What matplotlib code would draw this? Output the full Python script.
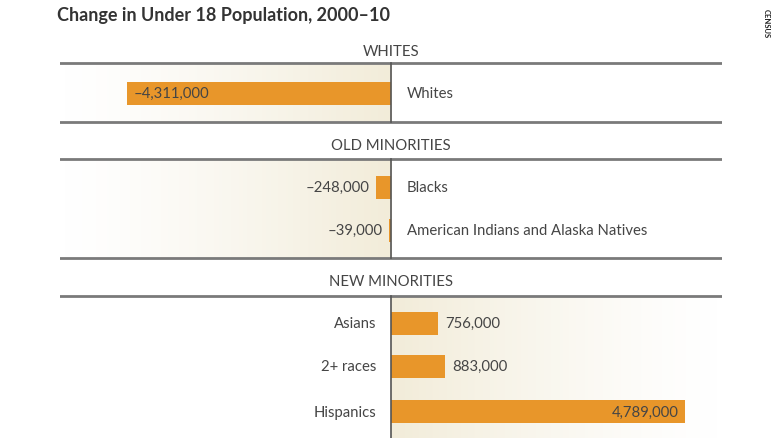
import numpy as np
import matplotlib.pyplot as plt
from matplotlib.colors import LinearSegmentedColormap

title = 'Change in Under 18 Population, 2000\u201310'
sections = ['WHITES', 'OLD MINORITIES', 'NEW MINORITIES']
groups = ['Whites', 'Blacks', 'American Indians and Alaska Natives',
          'Asians', '2+ races', 'Hispanics']
group_section = [0, 1, 1, 2, 2, 2]
changes = [-4311000, -248000, -39000, 756000, 883000, 4789000]
value_labels = ['\u20134,311,000', '\u2013248,000', '\u201339,000',
                '756,000', '883,000', '4,789,000']

# layout (rows measured in pixels from the top)
bar_y = [94, 188, 231, 324, 367, 413]
head_y = [52, 146, 282]
rule_top = [64, 160, 297]
rule_bot = [123, 259, 439]
bar_h = 23
orange = '#e8962a'
txt = '#454545'
font = ['Lato', 'DejaVu Sans']
fs = 10.7

W, H = 780, 439
fig = plt.figure(figsize=(W / 100, H / 100), dpi=100)
x0, x1 = 60, 722
ax = fig.add_axes([x0 / W, 0, (x1 - x0) / W, 1])
xmin, xmax = -5.41e6, 5.40e6
ax.set_xlim(xmin, xmax)
ax.set_ylim(H, 0)
ax.axis('off')

beige = LinearSegmentedColormap.from_list('bg', ['#ffffff', '#f2ecd9'])
grad = np.linspace(0, 1, 256)[None, :]
for s in range(3):
    if s < 2:
        ax.imshow(grad ** 1.3, cmap=beige, aspect='auto',
                  extent=(xmin, 0, rule_bot[s], rule_top[s]), zorder=0)
    else:
        ax.imshow(grad[:, ::-1] ** 1.3, cmap=beige, aspect='auto',
                  extent=(0, xmax, rule_bot[s], rule_top[s]), zorder=0)
    ax.axhline(rule_top[s], color='#7a7a7a', lw=2, zorder=3)
    if s < 2:
        ax.axhline(rule_bot[s], color='#7a7a7a', lw=2, zorder=3)
    ax.plot([0, 0], [rule_top[s], rule_bot[s]], color='#555555', lw=1.2,
            zorder=4)
    ax.text(0, head_y[s], sections[s], ha='center', va='center',
            fontsize=fs, color=txt, family=font)

ax.barh(bar_y, changes, height=bar_h, color=orange, zorder=2)

for i, v in enumerate(changes):
    y = bar_y[i]
    if abs(v) > 3e6:
        # value inside the bar
        if v < 0:
            ax.text(v + 0.1e6, y, value_labels[i], ha='left', va='center',
                    fontsize=fs, color=txt, family=font, zorder=5)
        else:
            ax.text(v - 0.1e6, y, value_labels[i], ha='right', va='center',
                    fontsize=fs, color=txt, family=font, zorder=5)
    elif v < 0:
        ax.text(v - 0.1e6, y, value_labels[i], ha='right', va='center',
                fontsize=fs, color=txt, family=font)
    else:
        ax.text(v + 0.12e6, y, value_labels[i], ha='left', va='center',
                fontsize=fs, color=txt, family=font)
    if group_section[i] < 2:
        ax.text(0.25e6, y, groups[i], ha='left', va='center',
                fontsize=fs, color=txt, family=font)
    else:
        ax.text(-0.25e6, y, groups[i], ha='right', va='center',
                fontsize=fs, color=txt, family=font)

fig.text(57 / W, 1 - 16 / H, title, ha='left', va='center', fontsize=13,
         fontweight='bold', color='#333333', family=font)
fig.text(766 / W, 1 - 24 / H, 'CENSUS', ha='center', va='center',
         rotation=270, fontsize=5.5, fontweight='bold', color='#222222',
         family=font)

fig.savefig('out.png', dpi=100)
